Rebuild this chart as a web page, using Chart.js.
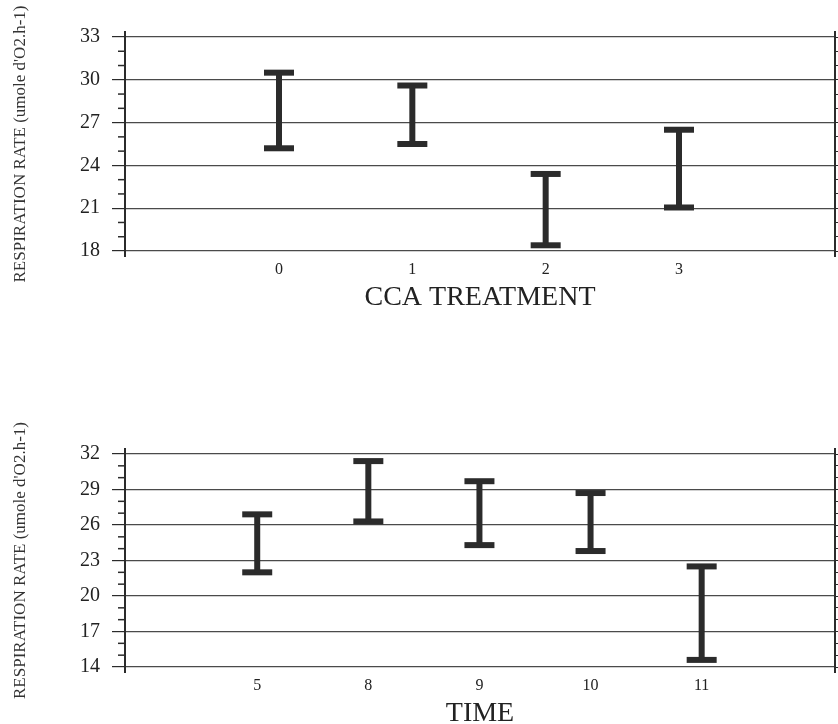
<!DOCTYPE html>
<html lang="en">
<head>
  <meta charset="UTF-8">
  <title>Respiration rate</title>
  <style>
    html, body { margin: 0; padding: 0; background: #fff; overflow: hidden; }
    .box { position: absolute; left: 0; width: 838px; }
    #top { top: 0; height: 320px; }
    #bottom { top: 320px; height: 410px; }
  </style>
  <script src="https://cdn.jsdelivr.net/npm/chart.js"></script>
</head>
<body>
  <div class="box" id="top"><canvas id="chartA"></canvas></div>
  <div class="box" id="bottom"><canvas id="chartB"></canvas></div>

  <script>
    // CCA treatment panel
    const treatCats = ['0', '1', '2', '3'];
    const treatHigh = [30.5, 29.6, 23.4, 26.5];
    const treatLow  = [25.2, 25.5, 18.4, 21.05];
    const treatMean = [27.8, 27.6, 20.9, 23.7];

    // time panel
    const timeCats = ['5', '8', '9', '10', '11'];
    const timeHigh = [26.9, 31.4, 29.7, 28.7, 22.5];
    const timeLow  = [22.0, 26.3, 24.3, 23.8, 14.6];
    const timeMean = [24.3, 28.8, 27.0, 26.3, 18.5];

    const yTitle = "RESPIRATION RATE (umole d'O2.h-1)";
    const serif = "'Liberation Serif', 'Times New Roman', serif";
    const ink = '#2b2b2b';

    // short minor ticks on the left axis + small overshoot of the axis lines
    const minorTicks = {
      id: 'minorTicks',
      afterDraw(chart) {
        const y = chart.scales.y, ctx = chart.ctx, a = chart.chartArea;
        const base = y.options.min;
        ctx.save();
        ctx.strokeStyle = ink;
        ctx.lineWidth = 1.5;
        for (let v = y.options.min; v <= y.options.max; v++) {
          if ((v - base) % 3 === 0) continue;
          const py = y.getPixelForValue(v);
          ctx.beginPath();
          ctx.moveTo(a.left - 7, py);
          ctx.lineTo(a.left, py);
          ctx.stroke();
        }
        ctx.lineWidth = 2;
        [a.left, a.right].forEach(px => {
          ctx.beginPath();
          ctx.moveTo(px, a.top - 6);
          ctx.lineTo(px, a.bottom + 6);
          ctx.stroke();
        });
        ctx.restore();
      }
    };

    function makeChart(id, cats, high, low, mean, opt) {
      const stems = [];
      cats.forEach((c, i) => {
        stems.push({ x: i, y: low[i] }, { x: i, y: high[i] }, { x: i, y: null });
      });
      const caps = [];
      cats.forEach((c, i) => { caps.push({ x: i, y: high[i] }, { x: i, y: low[i] }); });
      const means = mean.map((v, i) => ({ x: i, y: v }));
      const isMajor = v => (v - opt.min) % 3 === 0;

      return new Chart(document.getElementById(id), {
        type: 'line',
        data: {
          datasets: [
            { data: stems, borderColor: ink, borderWidth: 6, borderCapStyle: 'butt',
              pointRadius: 0, spanGaps: false },
            { type: 'scatter', data: caps, pointStyle: 'line', pointRadius: 15,
              borderColor: ink, borderWidth: 6, pointHoverRadius: 15 },
            { type: 'scatter', data: means, pointRadius: 1.5, backgroundColor: '#9a9a9a',
              borderWidth: 0 }
          ]
        },
        options: {
          responsive: true,
          maintainAspectRatio: false,
          animation: false,
          events: [],
          layout: { autoPadding: false, padding: { top: opt.top, left: 0, right: 0, bottom: 0 } },
          plugins: { legend: { display: false }, tooltip: { enabled: false } },
          scales: {
            x: {
              type: 'linear',
              min: opt.xMin, max: opt.xMax,
              afterBuildTicks: s => { s.ticks = cats.map((c, i) => ({ value: i })); },
              afterFit: s => { s.height = opt.xHeight; s.paddingLeft = 0; s.paddingRight = 0; },
              grid: { display: false, drawTicks: false },
              border: { display: false },
              ticks: {
                callback: v => cats[v], padding: 9, color: '#222',
                font: { family: serif, size: 16 }
              },
              title: {
                display: true, text: opt.xTitle, color: '#222',
                font: { family: serif, size: 28 }, padding: { top: 0, bottom: opt.titlePad }
              }
            },
            y: {
              min: opt.min, max: opt.max,
              afterFit: s => { s.width = 125; },
              ticks: {
                stepSize: 1, autoSkip: false, padding: 12, color: '#222',
                callback: v => isMajor(v) ? v : '',
                font: { family: serif, size: 20 }
              },
              grid: {
                color: c => isMajor(c.tick.value) ? '#4a4a4a' : 'rgba(0,0,0,0)',
                tickColor: c => isMajor(c.tick.value) ? ink : 'rgba(0,0,0,0)',
                tickLength: 13, lineWidth: 1.2
              },
              border: { display: true, color: ink, width: 2 },
              title: {
                display: true, text: yTitle, color: '#333',
                font: { family: serif, size: 17 }, padding: { top: 10, bottom: 0 }
              }
            },
            y2: {
              position: 'right',
              min: opt.min, max: opt.max,
              afterFit: s => { s.width = 3; },
              ticks: { display: false, stepSize: 1, autoSkip: false },
              grid: { drawOnChartArea: false, tickLength: 3, color: ink },
              border: { display: true, color: ink, width: 2 }
            }
          }
        },
        plugins: [minorTicks]
      });
    }

    makeChart('chartA', treatCats, treatHigh, treatLow, treatMean, {
      min: 18, max: 33, xMin: -1.155, xMax: 4.17, top: 37,
      xHeight: 69, xTitle: 'CCA TREATMENT', titlePad: 6
    });

    makeChart('chartB', timeCats, timeHigh, timeLow, timeMean, {
      min: 14, max: 32, xMin: -1.19, xMax: 5.2, top: 134,
      xHeight: 63, xTitle: 'TIME', titlePad: 0
    });
  </script>
</body>
</html>
